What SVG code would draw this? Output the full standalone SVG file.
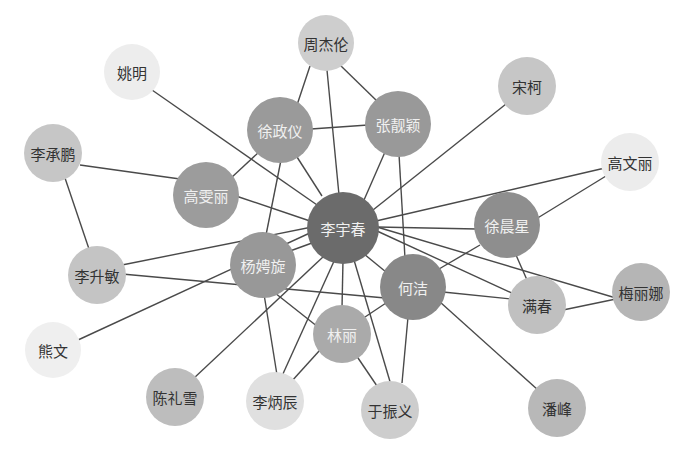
<svg xmlns="http://www.w3.org/2000/svg" width="683" height="450" viewBox="0 0 683 450">
<style>
.e line{stroke:#4a4a4a;stroke-width:1.4}
text{font-family:"Noto Sans CJK SC","Noto Sans",sans-serif;font-size:15px;text-anchor:middle;dominant-baseline:central}
.dk{fill:#333}
.lt{fill:#f0f0f0}
</style>
<rect width="683" height="450" fill="#fff"/>
<g id="edges" class="e">
<line x1="327" y1="70" x2="339" y2="195"/>
<line x1="310" y1="66" x2="297" y2="105"/>
<line x1="340" y1="65" x2="378" y2="102"/>
<line x1="152" y1="90" x2="320" y2="207"/>
<line x1="311" y1="129" x2="368" y2="125"/>
<line x1="297" y1="157" x2="322" y2="196"/>
<line x1="259" y1="152" x2="231" y2="178"/>
<line x1="281" y1="160" x2="266" y2="235"/>
<line x1="80" y1="165" x2="180" y2="179"/>
<line x1="65" y1="178" x2="89" y2="249"/>
<line x1="236" y1="196" x2="310" y2="221"/>
<line x1="385" y1="152" x2="364" y2="200"/>
<line x1="399" y1="154" x2="405" y2="258"/>
<line x1="506" y1="104" x2="373" y2="210"/>
<line x1="605" y1="168" x2="376" y2="221"/>
<line x1="606" y1="176" x2="536" y2="219"/>
<line x1="377" y1="227" x2="477" y2="229"/>
<line x1="377" y1="231" x2="516" y2="295"/>
<line x1="377" y1="227" x2="616" y2="298"/>
<line x1="516" y1="255" x2="527" y2="280"/>
<line x1="480" y1="245" x2="439" y2="269"/>
<line x1="443" y1="292" x2="511" y2="299"/>
<line x1="563" y1="310" x2="616" y2="299"/>
<line x1="122" y1="265" x2="312" y2="227"/>
<line x1="122" y1="274" x2="385" y2="298"/>
<line x1="78" y1="340" x2="312" y2="232"/>
<line x1="290" y1="251" x2="312" y2="243"/>
<line x1="193" y1="379" x2="324" y2="256"/>
<line x1="264" y1="294" x2="277" y2="375"/>
<line x1="282" y1="376" x2="335" y2="259"/>
<line x1="291" y1="382" x2="320" y2="350"/>
<line x1="275" y1="293" x2="318" y2="327"/>
<line x1="342" y1="308" x2="343" y2="260"/>
<line x1="362" y1="319" x2="386" y2="303"/>
<line x1="356" y1="355" x2="377" y2="386"/>
<line x1="391" y1="385" x2="354" y2="260"/>
<line x1="402" y1="383" x2="408" y2="317"/>
<line x1="364" y1="254" x2="386" y2="272"/>
<line x1="440" y1="302" x2="538" y2="390"/>
</g>
<g id="n-lyc"><circle cx="343" cy="228" r="36" fill="#6b6b6b"/><text x="343" y="228" class="lt">李宇春</text></g>
<g id="n-zjl"><circle cx="326" cy="43" r="28" fill="#cecece"/><text x="326" y="43" class="dk">周杰伦</text></g>
<g id="n-ym"><circle cx="132" cy="72" r="28" fill="#ededed"/><text x="132" y="72" class="dk">姚明</text></g>
<g id="n-xzy"><circle cx="280" cy="130" r="33" fill="#9a9a9a"/><text x="280" y="130" class="lt">徐政仪</text></g>
<g id="n-zly"><circle cx="398" cy="124" r="33" fill="#999"/><text x="398" y="124" class="lt">张靓颖</text></g>
<g id="n-sk"><circle cx="527" cy="86" r="29" fill="#c6c6c6"/><text x="527" y="86" class="dk">宋柯</text></g>
<g id="n-lcp"><circle cx="53" cy="153" r="29" fill="#c6c6c6"/><text x="53" y="153" class="dk">李承鹏</text></g>
<g id="n-gyl"><circle cx="206" cy="195" r="33" fill="#9c9c9c"/><text x="206" y="195" class="lt">高雯丽</text></g>
<g id="n-gwl"><circle cx="630" cy="162" r="29" fill="#ececec"/><text x="630" y="162" class="dk">高文丽</text></g>
<g id="n-xcx"><circle cx="507" cy="225" r="33" fill="#8e8e8e"/><text x="507" y="225" class="lt">徐晨星</text></g>
<g id="n-ypx"><circle cx="263" cy="265" r="33" fill="#989898"/><text x="263" y="265" class="lt">杨娉旋</text></g>
<g id="n-lsm"><circle cx="97" cy="275" r="29" fill="#c4c4c4"/><text x="97" y="275" class="dk">李升敏</text></g>
<g id="n-hj"><circle cx="413" cy="287" r="33" fill="#888"/><text x="413" y="287" class="lt">何洁</text></g>
<g id="n-mc"><circle cx="537" cy="305" r="29" fill="#c0c0c0"/><text x="537" y="305" class="dk">满春</text></g>
<g id="n-mln"><circle cx="641" cy="292" r="29" fill="#b5b5b5"/><text x="641" y="292" class="dk">梅丽娜</text></g>
<g id="n-ll"><circle cx="342" cy="334" r="29" fill="#aaa"/><text x="342" y="334" class="lt">林丽</text></g>
<g id="n-xw"><circle cx="53" cy="350" r="28" fill="#efefef"/><text x="53" y="350" class="dk">熊文</text></g>
<g id="n-clx"><circle cx="175" cy="397" r="29" fill="#bdbdbd"/><text x="175" y="397" class="dk">陈礼雪</text></g>
<g id="n-lbc"><circle cx="275" cy="401" r="29" fill="#e0e0e0"/><text x="275" y="401" class="dk">李炳辰</text></g>
<g id="n-yzy"><circle cx="390" cy="410" r="29" fill="#cdcdcd"/><text x="390" y="410" class="dk">于振义</text></g>
<g id="n-pf"><circle cx="557" cy="408" r="29" fill="#b8b8b8"/><text x="557" y="408" class="dk">潘峰</text></g>
</svg>
